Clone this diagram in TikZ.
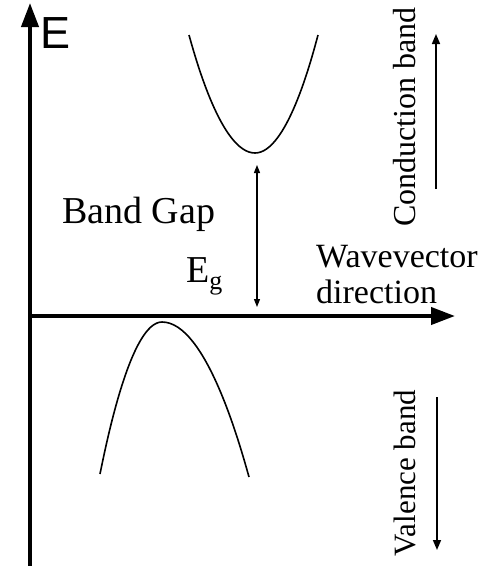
\documentclass[tikz,border=0pt]{standalone}
\usepackage{fontspec}
\setmainfont{Liberation Serif}
\newfontfamily\axisfont{Liberation Sans}
\usetikzlibrary{arrows.meta}
\begin{document}
\begin{tikzpicture}[x=1pt,y=-1pt,
  axis/.style={line width=4pt,-{Triangle[length=24pt,width=17pt]}},
  band/.style={line width=1.6pt},
  gaparrow/.style={line width=1.2pt,{Triangle[length=8pt,width=6pt]}-{Triangle[length=8pt,width=6pt]}},
  sidearrow/.style={line width=1.5pt,-{Triangle[length=10pt,width=8pt]}},
  lbl/.style={inner sep=0pt}]
\useasboundingbox (0,0) rectangle (490,566);
% axes
\coordinate (O) at (30,316);
\coordinate (ybot) at (30,566);
\coordinate (ytop) at (30,3);
\coordinate (xend) at (455,316);
\draw[axis] (ybot) -- (ytop);
\draw[axis] (O) -- (xend);
\node[lbl,anchor=base west,font=\axisfont\fontsize{45}{45}\selectfont] (E) at (40,48) {E};
% bands
\draw[band] (189,35) parabola bend (255,153) (318,35);
\draw[band] (100,474) parabola bend (162,322) (249,477);
% gap arrow
\coordinate (gtop) at (257,165);
\coordinate (gbot) at (257,307);
\draw[gaparrow] (gtop) -- (gbot);
\node[lbl,anchor=base west,font=\fontsize{38}{40}\selectfont] (bg) at (62,223) {Band Gap};
\node[lbl,anchor=base west,font=\fontsize{38}{40}\selectfont] (eg) at (186,282) {E\raisebox{-7pt}{\fontsize{26}{26}\selectfont g}};
\node[lbl,anchor=base west,align=left,font=\fontsize{34}{36}\selectfont] (wv) at (316,303) {Wavevector\\direction};
% side labels
\node[lbl,anchor=base,rotate=90,font=\fontsize{32}{32}\selectfont] (cb) at (415,117) {Conduction band};
\node[lbl,anchor=base,rotate=90,font=\fontsize{31}{31}\selectfont] (vb) at (415,473) {Valence band};
\coordinate (cbs) at (436,189);
\coordinate (cbe) at (436,34);
\draw[sidearrow] (cbs) -- (cbe);
\coordinate (vbs) at (437,397);
\coordinate (vbe) at (437,550);
\draw[sidearrow] (vbs) -- (vbe);
\end{tikzpicture}
\end{document}
